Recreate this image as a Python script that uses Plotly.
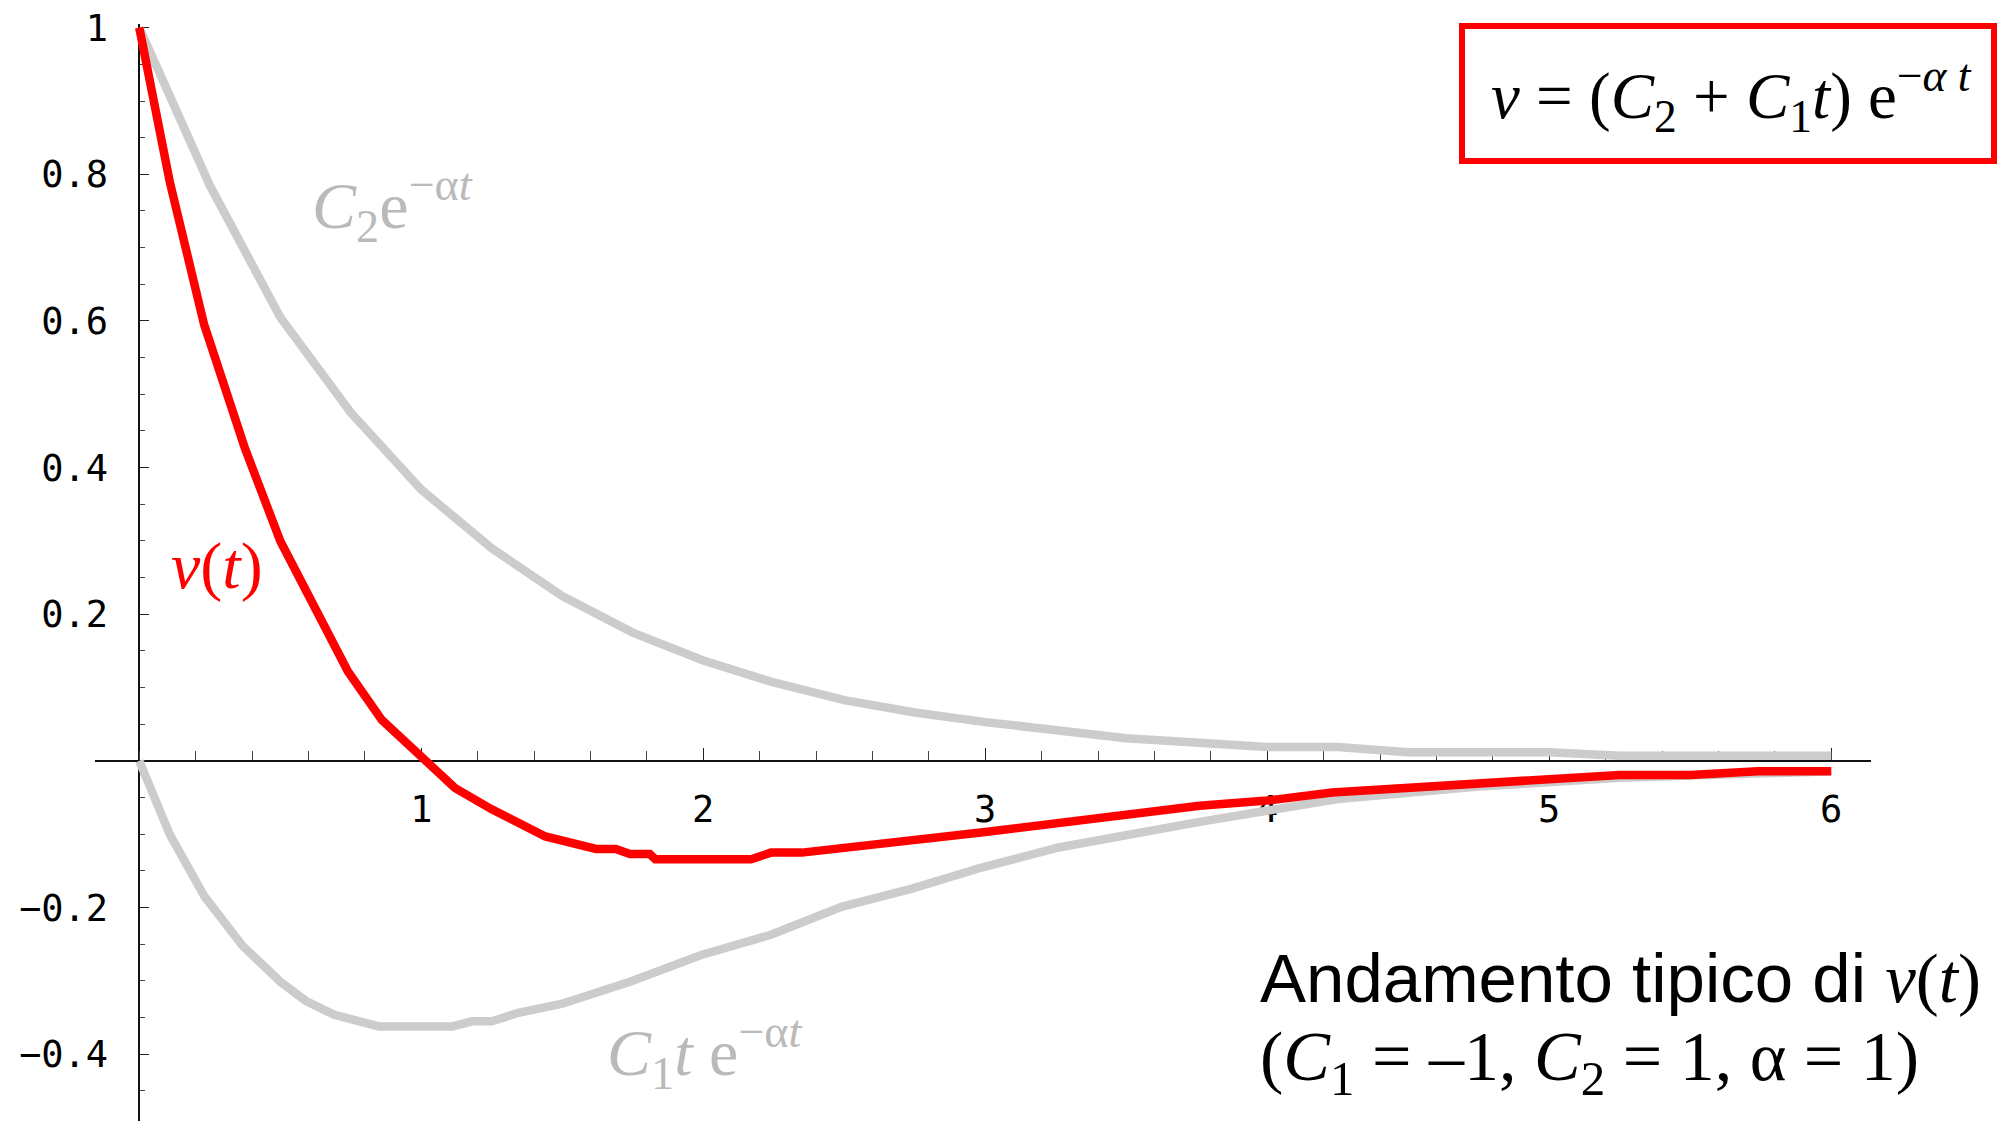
import plotly.graph_objects as go

# --- data -------------------------------------------------------------
# C2 e^(-alpha t)
t_c2 = [0, 0.25, 0.5, 0.75, 1.0, 1.25, 1.5, 1.75, 2.0, 2.25, 2.5, 2.75, 3.0,
        3.5, 4.0, 4.25, 4.5, 5.0, 5.25, 6.0]
v_c2 = [1.0, 0.785, 0.605, 0.475, 0.37, 0.29, 0.225, 0.175, 0.137, 0.107,
        0.083, 0.066, 0.053, 0.031, 0.019, 0.019, 0.012, 0.012, 0.007, 0.007]

# C1 t e^(-alpha t)
t_c1 = [0, 0.108, 0.23, 0.366, 0.5, 0.59, 0.69, 0.79, 0.85, 1.11, 1.18, 1.25,
        1.34, 1.5, 1.74, 1.99, 2.24, 2.49, 2.74, 2.99, 3.26, 3.76, 4.25, 4.75,
        5.25, 6.0]
v_c1 = [0.0, -0.10, -0.184, -0.252, -0.301, -0.327, -0.346, -0.355, -0.362,
        -0.362, -0.355, -0.355, -0.344, -0.331, -0.301, -0.265, -0.237, -0.199,
        -0.174, -0.145, -0.118, -0.083, -0.052, -0.035, -0.023, -0.014]

# v(t) = (C2 + C1 t) e^(-alpha t)
t_v = [0, 0.108, 0.23, 0.375, 0.5, 0.74, 0.86, 1.12, 1.25, 1.44, 1.62, 1.69,
       1.74, 1.81, 1.83, 2.17, 2.24, 2.35, 3.0, 3.76, 4.0, 4.23, 5.25, 5.5,
       5.74, 6.0]
v_v = [1.0, 0.79, 0.595, 0.426, 0.30, 0.122, 0.056, -0.037, -0.066, -0.103,
       -0.12, -0.12, -0.127, -0.127, -0.134, -0.134, -0.125, -0.125, -0.097,
       -0.061, -0.054, -0.043, -0.019, -0.019, -0.014, -0.014]

x_ticks = [1, 2, 3, 4, 5, 6]
x_ticklabels = ["1", "2", "3", "4", "5", "6"]
y_ticks = [-0.4, -0.2, 0.2, 0.4, 0.6, 0.8, 1.0]
y_ticklabels = ["\u22120.4", "\u22120.2", "0.2", "0.4", "0.6", "0.8", "1"]

# --- geometry ---------------------------------------------------------
W, H = 1999, 1121
ML, MR, MT, MB = 95, 128, 24, 0
X_RANGE = [-0.157, 6.141]
Y_RANGE = [-0.491, 1.005]


def paper_x(px):
    return (px - ML) / (W - ML - MR)


def paper_y(py):
    return 1 - (py - MT) / (H - MT - MB)


GREY_LINE = "#cccccc"
GREY_TEXT = "#bababa"
RED = "#ff0000"
SERIF = "Liberation Serif"
SANS = "Liberation Sans"
MONO = "DejaVu Sans Mono"
LW = 8.5

fig = go.Figure()
fig.add_trace(go.Scatter(x=t_c2, y=v_c2, mode="lines",
                         line=dict(color=GREY_LINE, width=LW)))
fig.add_trace(go.Scatter(x=t_c1, y=v_c1, mode="lines",
                         line=dict(color=GREY_LINE, width=LW)))
fig.add_trace(go.Scatter(x=t_v, y=v_v, mode="lines",
                         line=dict(color=RED, width=LW)))

x0_paper = (0 - Y_RANGE[0]) / (Y_RANGE[1] - Y_RANGE[0])
y0_paper = (0 - X_RANGE[0]) / (X_RANGE[1] - X_RANGE[0])

fig.update_layout(
    width=W, height=H,
    margin=dict(l=ML, r=MR, t=MT, b=MB, pad=0),
    paper_bgcolor="white", plot_bgcolor="white",
    showlegend=False,
    xaxis=dict(
        range=X_RANGE, anchor="free", position=x0_paper,
        showgrid=False, zeroline=False, showline=True,
        linecolor="#111", linewidth=1.5,
        tickmode="array", tickvals=x_ticks, ticktext=x_ticklabels,
        ticks="inside", ticklen=12, tickwidth=1.2, tickcolor="#222",
        minor=dict(ticks="inside", tickmode="linear", tick0=0, dtick=0.2,
                   ticklen=9, tickwidth=1.2, tickcolor="#444"),
        tickfont=dict(family=MONO, size=37, color="black"),
        ticklabelstandoff=16,
        layer="below traces",
    ),
    yaxis=dict(
        range=Y_RANGE, anchor="free", position=y0_paper,
        showgrid=False, zeroline=False, showline=True,
        linecolor="#111", linewidth=1.5,
        tickmode="array", tickvals=y_ticks, ticktext=y_ticklabels,
        ticks="inside", ticklen=9, tickwidth=1.2, tickcolor="#222",
        minor=dict(ticks="inside", tickmode="linear", tick0=0, dtick=0.05,
                   ticklen=5, tickwidth=1.2, tickcolor="#444"),
        tickfont=dict(family=MONO, size=37, color="black"),
        ticklabelstandoff=23,
        layer="below traces",
    ),
)

# boxed formula, top right
fig.add_shape(type="rect", xref="paper", yref="paper",
              x0=paper_x(1462), x1=paper_x(1994),
              y0=paper_y(26), y1=paper_y(161),
              line=dict(color=RED, width=6), fillcolor="rgba(0,0,0,0)")

annotations = [
    dict(text="<i>v</i> = (<i>C</i><sub>2</sub> + <i>C</i><sub>1</sub><i>t</i>) e<sup>\u2212<i>\u03b1 t</i></sup>",
         x=paper_x(1731), y=paper_y(96), xanchor="center", yanchor="middle",
         font=dict(family=SERIF, size=65, color="black")),
    dict(text="<i>C</i><sub>2</sub>e<sup>\u2212\u03b1<i>t</i></sup>",
         x=paper_x(310), y=paper_y(205), xanchor="left", yanchor="middle",
         font=dict(family=SERIF, size=66, color=GREY_TEXT)),
    dict(text="<i>C</i><sub>1</sub><i>t</i> e<sup>\u2212\u03b1<i>t</i></sup>",
         x=paper_x(605), y=paper_y(1052), xanchor="left", yanchor="middle",
         font=dict(family=SERIF, size=66, color=GREY_TEXT)),
    dict(text="<i>v</i>(<i>t</i>)",
         x=paper_x(217), y=paper_y(566), xanchor="center", yanchor="middle",
         font=dict(family=SERIF, size=66, color=RED)),
    dict(text="Andamento tipico di <span style=\"font-family:'Liberation Serif'\"><i>v</i>(<i>t</i>)</span>",
         x=paper_x(1258), y=paper_y(978), xanchor="left", yanchor="middle",
         font=dict(family=SANS, size=69, color="black")),
    dict(text="(<i>C</i><sub>1</sub> = \u20131, <i>C</i><sub>2</sub> = 1, \u03b1 = 1)",
         x=paper_x(1258), y=paper_y(1062), xanchor="left", yanchor="middle",
         font=dict(family=SERIF, size=70, color="black")),
]
for a in annotations:
    fig.add_annotation(xref="paper", yref="paper", showarrow=False, **a)

fig.write_html("out.html")
